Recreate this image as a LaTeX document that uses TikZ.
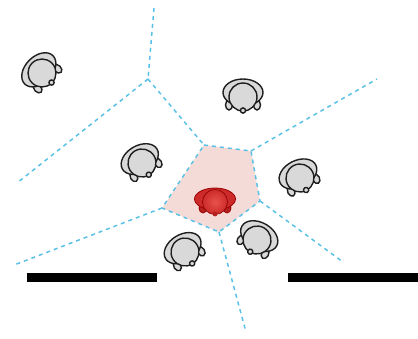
\documentclass[tikz,border=0pt]{standalone}
\begin{document}
\begin{tikzpicture}[x=1pt,y=1pt,
  cellborder/.style={dash pattern=on 4pt off 4pt, line width=1.5pt, draw=voro},
  bar/.style={fill=black},
  pics/mousehead/.style={code={
    \begin{scope}[line width=1.4pt, draw=outline, fill=headgray]
      \filldraw (-14,-8) ellipse [x radius=3.5, y radius=5];
      \filldraw (14,-8) ellipse [x radius=3.5, y radius=5];
      \filldraw (0,4.5) ellipse [x radius=20, y radius=13.5];
      \filldraw (0,0) circle [radius=14];
      \filldraw (0,-13.5) circle [radius=2.6];
    \end{scope}
  }},
  pics/redhead/.style={code={
    \begin{scope}[line width=0.8pt]
      \filldraw[draw=red!60!black, fill=redB] (-12,-6) ellipse [x radius=4, y radius=5];
      \filldraw[draw=red!60!black, fill=redB] (12,-6) ellipse [x radius=4, y radius=5];
      \filldraw[draw=red!60!black, fill=redA] (0,3) ellipse [x radius=20.5, y radius=11];
      \shade[inner color=redC, outer color=redA] (0,0) circle [radius=12.5];
      \draw[red!55!black, line width=0.6pt] (0,0) circle [radius=12.5];
      \fill[redB] (0,-12) circle [radius=2.4];
    \end{scope}
  }}]
\definecolor{voro}{HTML}{5BC0E6}
\definecolor{outline}{HTML}{1E1E1E}
\definecolor{headgray}{HTML}{D9D9D9}
\definecolor{cellpink}{HTML}{F4DBD8}
\definecolor{redA}{HTML}{CC2B2A}
\definecolor{redB}{HTML}{B52020}
\definecolor{redC}{HTML}{E8524C}

\useasboundingbox (0,0) rectangle (418,-338);

% Voronoi vertices
\coordinate (vtop) at (154,-8);
\coordinate (vhub) at (148,-79);
\coordinate (pA) at (204,-145);
\coordinate (pB) at (251,-151);
\coordinate (pC) at (260,-201);
\coordinate (pD) at (219,-232);
\coordinate (pE) at (162,-208);
\coordinate (eL1) at (17,-183);
\coordinate (eL2) at (14,-265);
\coordinate (eR1) at (377,-79);
\coordinate (eR2) at (343,-262);
\coordinate (eB) at (246,-332);

% highlighted cell
\fill[cellpink] (pA) -- (pB) -- (pC) -- (pD) -- (pE) -- cycle;

% cell boundaries
\draw[cellborder] (vtop) -- (vhub);
\draw[cellborder] (vhub) -- (eL1);
\draw[cellborder] (vhub) -- (pA);
\draw[cellborder] (pA) -- (pB) -- (pC) -- (pD) -- (pE) -- cycle;
\draw[cellborder] (pB) -- (eR1);
\draw[cellborder] (pC) -- (eR2);
\draw[cellborder] (pD) -- (eB);
\draw[cellborder] (pE) -- (eL2);

% scale bars
\fill[bar] (27,-273) rectangle (157,-282);
\fill[bar] (288,-273) rectangle (418,-282);

% neighbouring heads
\pic[rotate=45] at (42,-73) {mousehead};
\pic[rotate=30] at (142,-163) {mousehead};
\pic at (243,-97) {mousehead};
\pic[rotate=27] at (300,-178) {mousehead};
\pic[rotate=32] at (185,-252) {mousehead};
\pic[rotate=-30] at (257,-240) {mousehead};

% central head
\pic at (215,-202) {redhead};
\end{tikzpicture}
\end{document}
